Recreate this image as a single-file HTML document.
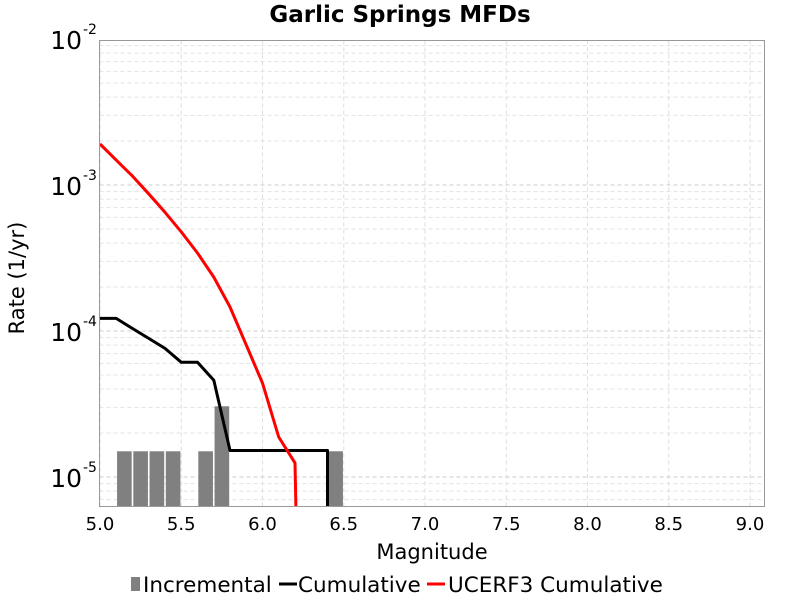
<!DOCTYPE html>
<html><head><meta charset="utf-8"><style>
body{margin:0;background:#fff;font-family:"DejaVu Sans","Liberation Sans",sans-serif}
svg text{font-family:"DejaVu Sans","Liberation Sans",sans-serif}
</style></head><body>
<svg id="chart" width="800" height="600" xmlns="http://www.w3.org/2000/svg">
<text x="400" y="22" font-size="23" font-weight="bold" text-anchor="middle">Garlic Springs MFDs</text>
<g id="grid"></g>
<g id="bars"></g>
<g id="lines"></g>
<rect x="99.5" y="40.5" width="665" height="466" fill="none" stroke="#999"/>
<g id="ticks"></g>
<text x="432" y="559" font-size="21" text-anchor="middle">Magnitude</text>
<text transform="translate(24,278) rotate(-90)" font-size="21" text-anchor="middle">Rate (1/yr)</text>
<g>
<rect x="131" y="577" width="9" height="14" fill="#808080"/>
<text x="143" y="592" font-size="21.5">Incremental</text>
<line x1="279" y1="584" x2="297" y2="584" stroke="#000" stroke-width="3"/>
<text x="298" y="592" font-size="21.5">Cumulative</text>
<line x1="427" y1="584" x2="445" y2="584" stroke="#f00" stroke-width="3"/>
<text x="448" y="592" font-size="21.5">UCERF3 Cumulative</text>
</g>
</svg>
<script>
const xTicks=[5.0,5.5,6.0,6.5,7.0,7.5,8.0,8.5,9.0];
const yDecades=[-5,-4,-3,-2];
const incMags=[5.15,5.25,5.35,5.45,5.65,5.75,6.45];
const incRates=[1.5e-5,1.5e-5,1.5e-5,1.5e-5,1.5e-5,3.05e-5,1.5e-5];
const cumMags=[5.0,5.1,5.2,5.3,5.4,5.5,5.6,5.7,5.8,5.9,6.0,6.1,6.2,6.3,6.4,6.4];
const cumRates=[1.22e-4,1.22e-4,1.04e-4,8.9e-5,7.6e-5,6.1e-5,6.1e-5,4.6e-5,1.52e-5,1.52e-5,1.52e-5,1.52e-5,1.52e-5,1.52e-5,1.52e-5,1e-6];
const ucMags=[5.0,5.1,5.2,5.3,5.4,5.5,5.6,5.7,5.8,5.9,6.0,6.1,6.2,6.22];
const ucRates=[1.91e-3,1.48e-3,1.15e-3,8.7e-4,6.5e-4,4.77e-4,3.42e-4,2.34e-4,1.46e-4,8.0e-5,4.4e-5,1.88e-5,1.25e-5,1e-6];
const NS="http://www.w3.org/2000/svg";
const L=99.5,R=764.5,T=40.5,B=506.5;
function X(m){return 100+(m-5)*162.5;}
function Y(v){return 39-(Math.log10(v)+2)*146;}
function mk(tag,attrs,parent){const e=document.createElementNS(NS,tag);for(const k in attrs)e.setAttribute(k,attrs[k]);parent.appendChild(e);return e;}
const grid=document.getElementById('grid'),ticks=document.getElementById('ticks');
xTicks.forEach(t=>{
 const x=X(t);
 const g=mk('line',{x1:x,x2:x,y1:T,y2:B,stroke:'#ddd','stroke-dasharray':'4,3'},grid);
 
 
 const tx=mk('text',{x:x,y:530,'font-size':18,'text-anchor':'middle'},ticks);
 tx.textContent=t.toFixed(1);
 
 
});
for(let d=-6;d<=-3;d++){for(let k=1;k<10;k++){const y=Y(k*Math.pow(10,d));if(y<T||y>B)continue;
 const g=mk('line',{x1:L,x2:R,y1:y,y2:y,stroke:k==1?'#ccc':'#e2e2e2','stroke-dasharray':'4,3'},grid);
 
 }}
yDecades.forEach(d=>{
 const y=Y(Math.pow(10,d));
 const tx=mk('text',{x:82,y:y+10,'font-size':25,'text-anchor':'end'},ticks);
 tx.textContent='10';
 
 
 const s=mk('text',{x:83,y:y-5,'font-size':14},ticks);
 s.textContent=String(d);
 
 
});
const bars=document.getElementById('bars');
incMags.forEach((m,i)=>{const y=Y(incRates[i]);
 const b=mk('rect',{x:X(m-0.045),y:y,width:0.09*162.5,height:B-y,fill:'#808080'},bars);
 
 });
const lines=document.getElementById('lines');
const cp=mk('clipPath',{id:'clip'},lines);
mk('rect',{x:L,y:T,width:R-L,height:B-T},cp);
function path(ms,rs,col,name){const d=ms.map((m,i)=>(i?'L':'M')+X(m).toFixed(1)+','+Y(rs[i]).toFixed(1)).join(' ');
 const p=mk('path',{d:d,fill:'none',stroke:col,'stroke-width':3,'stroke-linejoin':'round','clip-path':'url(#clip)'},lines);
 
 }
path(cumMags,cumRates,'#000','cumulative-line');
path(ucMags,ucRates,'#f00','ucerf3-cumulative-line');
</script>
</body></html>
